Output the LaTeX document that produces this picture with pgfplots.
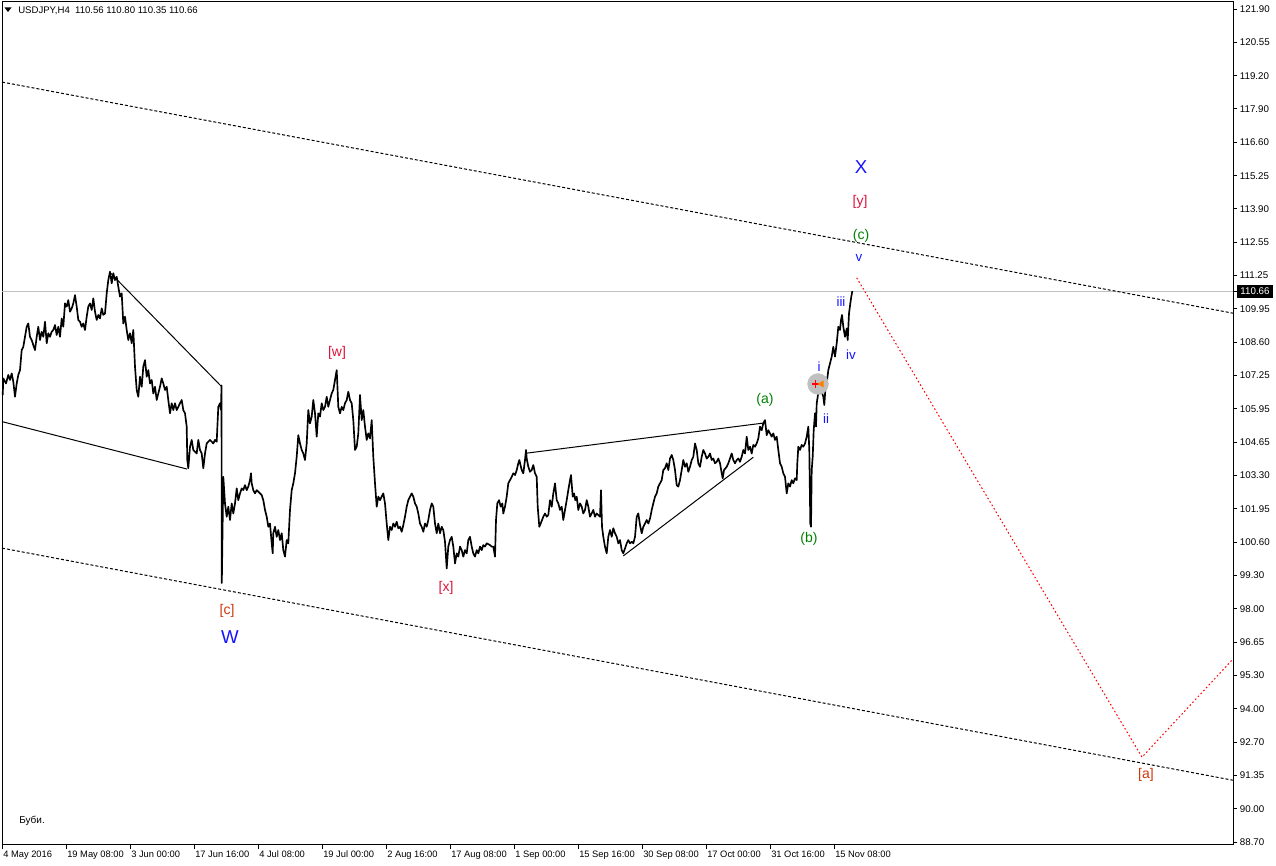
\documentclass[border=0pt]{standalone}
\usepackage{fontspec}
\setmainfont{Liberation Sans}
\usepackage{pgfplots}
\pgfplotsset{compat=1.18}
\definecolor{wavered}{RGB}{220,20,60}
\definecolor{wavebrown}{RGB}{205,55,10}
\definecolor{wavegreen}{RGB}{0,128,0}
\definecolor{waveblue}{RGB}{20,20,255}
\definecolor{lvl}{RGB}{192,192,192}
\begin{document}
\begin{tikzpicture}[x=0.75pt,y=0.75pt]
\path[use as bounding box] (0,0) rectangle (1276,866);
\begin{axis}[
  at={(1.5pt,15.75pt)}, anchor=south west,
  scale only axis, width=923.25pt, height=632.25pt,
  xmin=2, xmax=1233, ymin=88.59, ymax=122.18,
  clip=false,
  axis line style={black, line width=0.75pt},
  tick style={black, line width=0.75pt},
  tick align=outside, major tick length=3pt,
  xtick pos=bottom, ytick pos=right, yticklabel pos=right,
  xtick={2,66,130,194,258,322,386,450,514,578,642,706,770,834},
  xticklabels={4 May 2016,19 May 08:00,3 Jun 00:00,17 Jun 16:00,4 Jul 08:00,19 Jul 00:00,2 Aug 16:00,17 Aug 08:00,1 Sep 00:00,15 Sep 16:00,30 Sep 08:00,17 Oct 00:00,31 Oct 16:00,15 Nov 08:00},
  ytick={88.700,90.028,91.356,92.684,94.012,95.340,96.668,97.996,99.324,100.652,101.980,103.308,104.636,105.964,107.292,108.620,109.948,111.276,112.604,113.932,115.260,116.588,117.916,119.244,120.572,121.900},
  yticklabels={88.70,90.00,91.35,92.70,94.00,95.30,96.65,98.00,99.30,100.60,101.95,103.30,104.65,105.95,107.25,108.60,109.95,111.25,112.55,113.90,115.25,116.60,117.90,119.20,120.55,121.90},
  ticklabel style={font=\fontsize{7.3}{9}\selectfont, inner sep=0pt},
  xticklabel style={anchor=north west, xshift=0.75pt, yshift=-0.3pt, text height=6.2pt, text depth=1.6pt, font=\fontsize{7}{9}\selectfont},
  yticklabel style={anchor=west, xshift=2pt},
]
% level line
\addplot[lvl, line width=0.75pt] coordinates {(2,110.66) (1233,110.66)};
% channel lines
\addplot[black, line width=0.75pt, dash pattern=on 2.25pt off 1.5pt] coordinates {(2,118.99) (1233,109.78)};
\addplot[black, line width=0.75pt, dash pattern=on 2.25pt off 1.5pt] coordinates {(2,100.42) (1233,91.17)};
% trend lines
\addplot[black, line width=0.75pt] coordinates {(2,105.46) (187,103.57)};
\addplot[black, line width=0.75pt] coordinates {(109.3,111.43) (221.7,106.85)};
\addplot[black, line width=0.75pt] coordinates {(526,104.20) (765,105.41)};
\addplot[black, line width=0.75pt] coordinates {(623.3,100.11) (753.3,104.04)};
% projection
\addplot[red, line width=0.75pt, dash pattern=on 1.2pt off 1.8pt] coordinates {(856.7,111.19) (1142,92.09) (1233,96.00)};
% price
\addplot[black, line width=1.25pt, line join=round] coordinates {
(2.7,106.52) (3.3,107.18) (6,106.98) (8.3,107.32) (10,107.12) (11.7,107.38) (13.3,107.05) (15,106.45) (16.7,106.98) (18.3,107.32)
(20,107.51) (21.7,108.31) (23.3,108.44) (25,108.84) (26.7,109.24) (28.3,109.37) (30,108.84) (31.7,108.71) (33.3,108.51) (35,108.31)
(36.7,108.84) (38.3,109.24) (40,108.71) (41.7,109.04) (43.3,108.84) (45,109.44) (46.7,108.58) (48.3,108.98) (50,108.84) (51.7,109.04)
(53.3,109.11) (55,109.31) (56.7,108.91) (58.3,109.24) (60,108.84) (61.7,109.57) (63.3,109.24) (65,110.17) (66.7,110.04) (68.3,110.30)
(70,109.84) (71.7,109.97) (73.3,110.17) (75,110.50) (76.7,110.04) (78.3,109.51) (80,109.44) (81.7,109.24) (83.3,109.37) (85,109.11)
(86.7,109.64) (88.3,110.04) (90,110.17) (91.7,109.91) (93.3,110.37) (95,109.84) (96.7,109.51) (98.3,109.71) (100,109.57) (101.7,109.97)
(103.3,109.71) (105,109.77) (106.7,110.57) (108.3,111.10) (110,111.43) (111.7,110.97) (113.3,111.37) (115,111.10) (116.7,111.23) (118.3,110.84)
(120,110.44) (121.7,110.57) (123.3,109.37) (125,109.64) (126.7,109.11) (128.3,108.71) (130,108.98) (131.7,108.58) (133.3,109.11) (135,107.65)
(136.7,106.72) (138.3,106.45) (140,107.25) (141.7,106.85) (143.3,107.65) (145,107.91) (146.7,107.25) (148.3,107.51) (150,106.98) (151.7,107.12)
(153.3,106.58) (155,106.85) (156.7,106.32) (158.3,106.58) (160,106.85) (161.7,107.18) (163.3,106.98) (165,106.72) (166.7,106.85) (168.3,106.32)
(170,105.79) (171.7,106.19) (173.3,105.92) (175,106.19) (176.7,105.92) (178.3,106.05) (180,106.19) (181.7,106.32) (183.3,105.92) (185,105.79)
(186.7,105.26) (187.3,103.93) (188.3,103.60) (190,104.46) (191.7,104.73) (193.3,104.33) (196.7,104.19) (198.3,104.73) (200,104.33) (201.7,104.19)
(203.3,103.60) (205,104.19) (206.7,104.59) (210,104.73) (213.3,104.59) (215,104.73) (216.7,104.66) (218.3,106.05) (220,106.19) (221,105.92)
(221.5,106.90) (221.8,99.03) (223.3,103.26) (225,102.20) (226.7,101.67) (228.3,102.07) (230,101.54) (231.7,102.20) (233.3,101.80) (235,102.20)
(236.7,102.80) (238.3,102.33) (240,102.60) (241.7,102.80) (243.3,102.73) (245,102.93) (246.7,102.73) (248.3,102.87) (250,103.13) (251,103.40)
(251.7,103.00) (253.3,102.73) (255,102.60) (256.7,102.73) (258.3,102.67) (260,102.60) (261.7,102.53) (263.3,102.33) (265,101.94) (266.7,101.67)
(268.3,101.27) (270,101.40) (271.7,100.61) (272.7,100.21) (273.3,101.01) (275,101.27) (276.7,100.87) (278.3,101.14) (280,100.74) (281.7,101.01)
(283.3,100.34) (285,100.08) (286.7,100.74) (288.3,100.61) (289.3,101.40) (290,101.94) (291.7,102.73) (293.3,103.00) (295,103.40) (296.7,104.06)
(298.3,104.92) (300,104.59) (301.7,104.33) (303.3,104.19) (305,103.93) (306.7,104.59) (308.3,105.92) (310,105.39) (311.7,105.66) (313.3,106.32)
(315,105.79) (316.7,104.86) (318.3,105.79) (320,105.66) (321.7,106.19) (323.3,105.92) (325,106.05) (326.7,106.45) (328.3,106.05) (330,106.32)
(331.7,106.59) (333.3,106.72) (335,107.12) (336.7,107.51) (337.3,106.98) (338.3,106.05) (340,105.79) (341.7,106.05) (343.3,105.92) (345,106.19)
(346.7,106.32) (348.3,106.65) (350,106.32) (351.7,106.19) (353.3,105.52) (355,104.33) (356.7,104.46) (358.3,104.99) (360,106.52) (361.7,105.52)
(363.3,105.92) (365,105.26) (366.7,104.73) (368.3,104.99) (370,104.79) (371.7,105.52) (373.3,104.06) (375,103.00) (376.7,102.07) (378.3,102.47)
(380,102.33) (381.7,102.47) (383.3,102.60) (385,102.20) (386.7,101.40) (388.3,100.74) (390,101.27) (391.7,101.14) (393.3,101.40) (395,101.27)
(396.7,101.47) (398.3,101.21) (400,101.27) (401.7,101.07) (403.3,101.34) (405,101.67) (406.7,102.07) (408.3,102.33) (410,102.47) (411.7,102.60)
(413.3,102.47) (415,102.20) (416.7,102.07) (418.3,101.80) (420,101.40) (421.7,101.27) (423.3,101.07) (425,101.40) (426.7,101.27) (428.3,101.54)
(430,101.94) (431.7,102.20) (433.3,102.07) (435,101.40) (436.7,101.01) (438.3,101.40) (440,101.01) (441.7,101.27) (443.3,101.14) (445,100.67)
(446.7,99.61) (448.3,100.48) (450,100.74) (451.7,100.87) (453.3,100.48) (455,99.81) (456.7,100.21) (458.3,100.08) (460,100.48) (461.7,100.34)
(463.3,100.08) (465,100.34) (466.7,100.21) (468.3,100.74) (470,100.87) (471.7,100.48) (473.3,100.21) (475,100.08) (476.7,100.34) (478.3,100.21)
(480,100.48) (481.7,100.34) (483.3,100.54) (485,100.48) (486.7,100.61) (490,100.54) (491.7,100.48) (493.3,100.48) (495,100.08) (496,101.54)
(497.3,102.20) (499,102.33) (500.7,102.07) (502.3,102.20) (503.3,101.80) (505,102.07) (506.7,102.47) (508.3,103.00) (510,103.13) (511.7,103.26)
(513.3,103.40) (515,103.33) (516.7,103.53) (518.3,103.80) (519.3,103.93) (521.7,103.53) (523.3,103.40) (525,103.93) (526,104.33) (526.7,103.99)
(528.3,103.66) (530,103.46) (531.7,103.53) (533.3,103.73) (535,103.40) (536.7,103.26) (537.7,102.07) (539.3,101.27) (540.7,101.40) (543.3,101.67)
(545,101.80) (546.7,101.67) (548.3,101.74) (550,102.33) (551.7,102.07) (553.3,102.60) (555,103.00) (556.7,102.33) (558.3,102.20) (560,101.94)
(561.7,102.07) (563.3,101.54) (565,101.94) (566.7,102.33) (568.3,102.73) (570,103.13) (571,103.33) (572.7,102.47) (574,102.60) (575.3,102.33)
(576.7,102.47) (578.3,101.94) (580,102.20) (581.7,102.07) (583.3,101.80) (585,101.94) (586.7,102.33) (588.3,102.07) (590,101.67) (591.7,101.80)
(593.3,101.94) (595,101.67) (596.7,101.80) (600,101.67) (601,102.73) (602,101.27) (603.3,100.87) (605,100.47) (606.7,100.21) (608.3,100.87)
(610,101.14) (611.7,100.87) (613.3,101.21) (615,101.01) (616.7,100.87) (618.3,100.61) (620,100.74) (621.7,100.34) (623.3,100.21) (625,100.41)
(626.7,100.61) (628.3,100.74) (630,100.61) (631.7,100.67) (633.3,100.61) (635,100.87) (636.7,101.67) (638.3,101.80) (640,101.34) (641.7,101.01)
(643.3,101.27) (645,101.40) (646.7,101.54) (648.3,101.40) (650,101.60) (651.7,101.94) (653.3,102.20) (655,102.47) (656.7,102.60) (658.3,102.87)
(660,103.00) (661.7,103.13) (663.3,103.53) (665,103.60) (666.7,103.80) (668.3,103.53) (670,103.99) (671.7,104.13) (673.3,103.93) (675,103.53)
(676.7,102.93) (678.3,102.87) (680,103.13) (681.7,103.53) (683.3,103.93) (685,103.66) (686.7,103.80) (688.3,103.46) (690,103.66) (691.7,103.93)
(693.3,104.06) (695,104.59) (696.7,104.33) (698.3,103.80) (700,103.66) (701.7,104.06) (703.3,104.33) (705,104.19) (706.7,103.99) (708.3,104.06)
(710,104.19) (711.7,103.93) (713.3,103.99) (715,103.80) (716.7,103.86) (718.3,103.99) (720,103.80) (721.7,103.40) (722.7,103.20) (724,103.53)
(726.7,103.66) (728.3,103.80) (730,103.99) (731.7,104.19) (733.3,103.93) (735,103.80) (736.7,103.93) (738.3,103.99) (740,103.86) (741.7,104.06)
(743.3,104.33) (745,104.19) (746.7,104.86) (748.3,104.33) (750,104.46) (751.7,104.19) (753.3,104.53) (755,104.46) (756.7,104.59) (758.3,104.79)
(760,105.26) (761.7,105.12) (763.3,105.39) (765,105.52) (766.7,104.92) (768.3,105.12) (770,104.99) (771.7,104.86) (773.3,104.99) (775,104.73)
(776.7,104.86) (778.3,104.33) (780,103.80) (781.7,103.66) (783.3,103.40) (785,103.26) (786.7,102.60) (788.3,103.00) (790,102.87) (791.7,103.13)
(793.3,103.00) (795,103.20) (796.7,103.13) (797.3,103.80) (798.3,104.46) (800,104.33) (801.7,104.53) (803.3,104.46) (805,104.59) (806.7,104.86)
(808.3,105.26) (809.3,104.33) (810.3,101.40) (811,101.27) (811.7,103.53) (812.7,104.06) (813.7,105.12) (815,105.79) (816,105.26) (816.7,106.19)
(817.7,106.45) (818.7,106.72) (820,106.58) (821.7,106.65) (823.3,106.45) (824.3,106.12) (825.3,106.72) (826.7,106.98) (828.3,107.51) (830,107.78)
(831.7,108.05) (833.3,108.44) (835,108.05) (836.7,108.58) (838.3,109.24) (840,109.11) (841,109.51) (842,109.71) (843.3,109.24) (845,108.84)
(846.7,109.17) (847.7,108.71) (849,109.77) (850.3,110.17) (851.3,110.44) (852.3,110.66)
};
% marker object
\addplot[only marks, mark=*, mark size=7.8pt, color=lvl] coordinates {(818,106.96)};
\addplot[only marks, mark=+, mark size=2.8pt, red, line width=1.1pt] coordinates {(815.5,106.96)};
\addplot[only marks, mark=triangle*, mark size=2.6pt, orange, mark options={rotate=90}] coordinates {(821.5,106.96)};
% wave labels
\node[wavered, font=\fontsize{10.5}{12}\selectfont] at (axis cs:337,108.19) {[w]};
\node[wavered, font=\fontsize{10.5}{12}\selectfont] at (axis cs:446,98.83) {[x]};
\node[wavebrown, font=\fontsize{10.5}{12}\selectfont] at (axis cs:227,97.91) {[c]};
\node[waveblue, font=\fontsize{14}{16}\selectfont] at (axis cs:230,96.87) {W};
\node[wavegreen, font=\fontsize{10.5}{12}\selectfont] at (axis cs:765,106.32) {(a)};
\node[wavegreen, font=\fontsize{10.5}{12}\selectfont] at (axis cs:809,100.78) {(b)};
\node[waveblue, font=\fontsize{10}{12}\selectfont] at (axis cs:819,107.63) {i};
\node[waveblue, font=\fontsize{10}{12}\selectfont] at (axis cs:826,105.56) {ii};
\node[waveblue, font=\fontsize{10}{12}\selectfont] at (axis cs:841,110.22) {iii};
\node[waveblue, font=\fontsize{10}{12}\selectfont] at (axis cs:851,108.11) {iv};
\node[waveblue, font=\fontsize{10}{12}\selectfont] at (axis cs:859,111.98) {v};
\node[wavegreen, font=\fontsize{10.5}{12}\selectfont] at (axis cs:861,112.86) {(c)};
\node[wavered, font=\fontsize{10.5}{12}\selectfont] at (axis cs:860,114.21) {[y]};
\node[waveblue, font=\fontsize{14}{16}\selectfont] at (axis cs:861,115.60) {X};
\node[wavebrown, font=\fontsize{10.5}{12}\selectfont] at (axis cs:1146,91.37) {[a]};
\end{axis}
% current price box
\fill[black] (1237,568) rectangle (1273,581);
\node[white, font=\fontsize{7.3}{9}\selectfont, inner sep=0pt] at (1255,574.5) {110.66};
\draw[black, line width=0.75pt] (1233,574.8) -- (1237,574.8);
% header
\fill[black] (4.5,858.5) -- (11.5,858.5) -- (8,854) -- cycle;
\node[anchor=west, inner sep=0pt, font=\fontsize{7.2}{9}\selectfont] at (18,855.5) {USDJPY,H4\ \ 110.56 110.80 110.35 110.66};
\node[anchor=west, inner sep=0pt, font=\fontsize{7.5}{9}\selectfont] at (19,45) {Буби.};
\end{tikzpicture}
\end{document}
